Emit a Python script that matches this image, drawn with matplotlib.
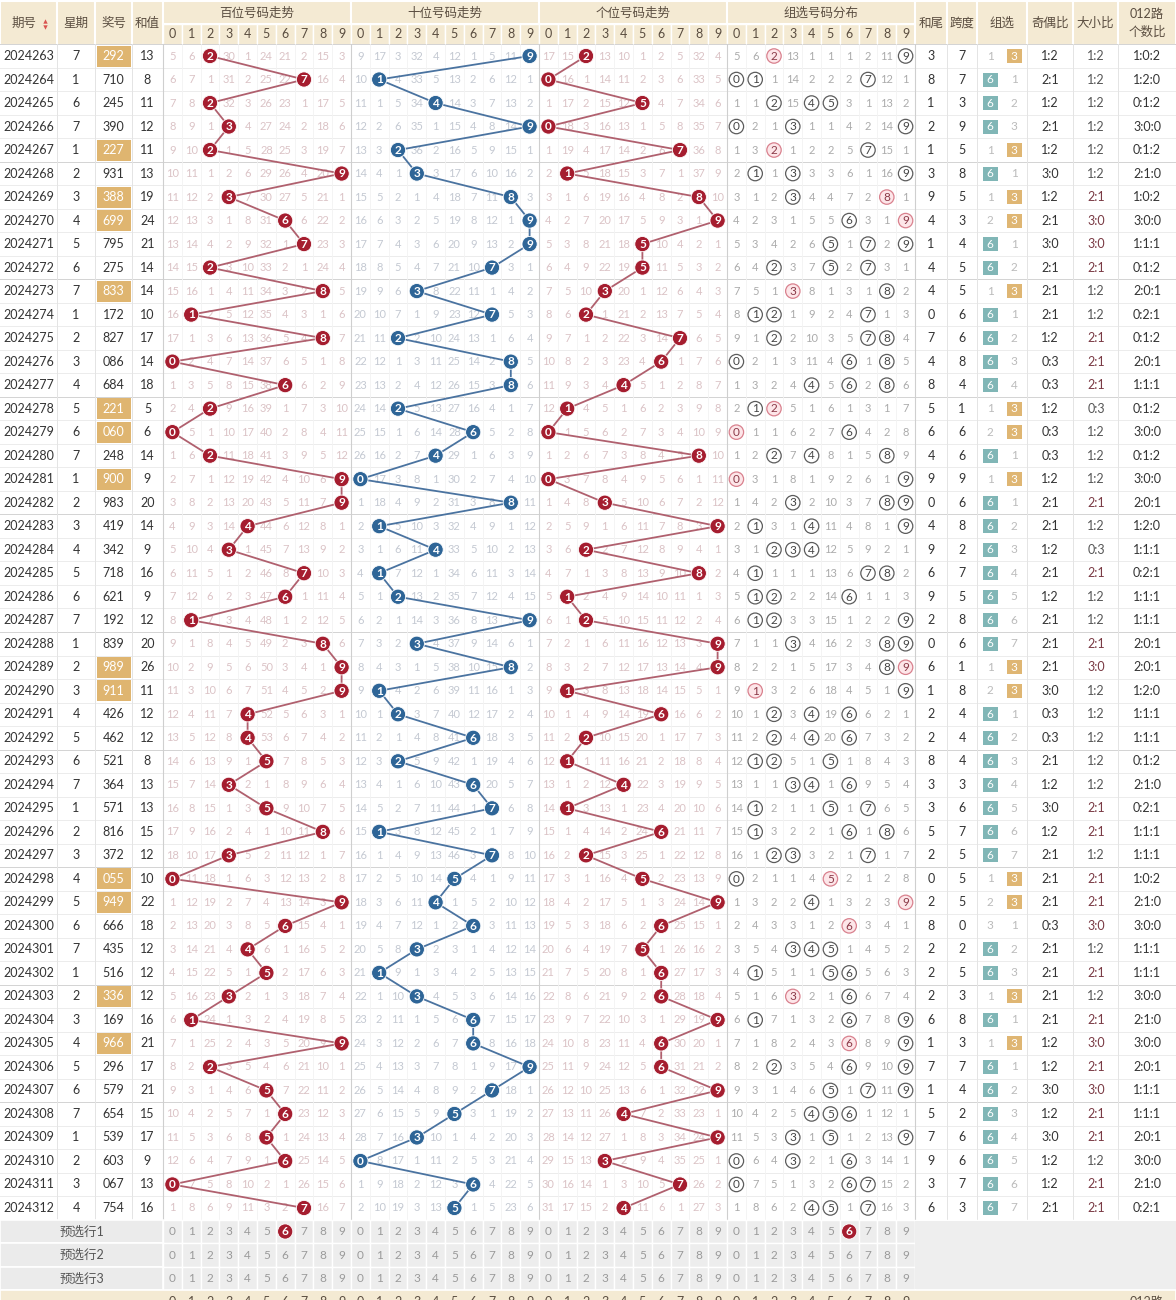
import matplotlib
matplotlib.use('Agg')
import matplotlib.pyplot as plt
from matplotlib.patches import Rectangle, Circle

plt.rcParams['font.family'] = ['Lato', 'Noto Sans CJK SC', 'DejaVu Sans']

# ---- data ----
issues = list(range(2024263, 2024313))
weekdays = [7, 1, 6, 7, 1, 2, 3, 4, 5, 6, 7, 1, 2, 3, 4, 5, 6, 7, 1, 2, 3, 4, 5, 6, 7,
            1, 2, 3, 4, 5, 6, 7, 1, 2, 3, 4, 5, 6, 7, 1, 2, 3, 4, 5, 6, 7, 1, 2, 3, 4]
draws = ["292", "710", "245", "390", "227", "931", "388", "699", "795", "275",
         "833", "172", "827", "086", "684", "221", "060", "248", "900", "983",
         "419", "342", "718", "621", "192", "839", "989", "911", "426", "462",
         "521", "364", "571", "816", "372", "055", "949", "666", "435", "516",
         "336", "169", "966", "296", "579", "654", "539", "603", "067", "754"]
sums = [13, 8, 11, 12, 11, 13, 19, 24, 21, 14, 14, 10, 17, 14, 18, 5, 6, 14, 9, 20,
        14, 9, 16, 9, 12, 20, 26, 11, 12, 12, 8, 13, 13, 15, 12, 10, 22, 18, 12, 12,
        12, 16, 21, 17, 21, 15, 17, 9, 13, 16]
tails = [3, 8, 1, 2, 1, 3, 9, 4, 1, 4, 4, 0, 7, 4, 8, 5, 6, 4, 9, 0, 4, 9, 6, 9, 2,
         0, 6, 1, 2, 2, 8, 3, 3, 5, 2, 0, 2, 8, 2, 2, 2, 6, 1, 7, 1, 5, 7, 9, 3, 6]
spans = [7, 7, 3, 9, 5, 8, 5, 3, 4, 5, 5, 6, 6, 8, 4, 1, 6, 6, 9, 6, 8, 2, 7, 5, 8,
         6, 1, 8, 4, 4, 4, 3, 6, 7, 5, 5, 5, 0, 2, 5, 3, 8, 3, 7, 4, 2, 6, 6, 7, 3]
odd_even = ["1:2", "2:1", "1:2", "2:1", "1:2", "3:0", "1:2", "2:1", "3:0", "2:1",
            "2:1", "2:1", "1:2", "0:3", "0:3", "1:2", "0:3", "0:3", "1:2", "2:1",
            "2:1", "1:2", "2:1", "1:2", "2:1", "2:1", "2:1", "3:0", "0:3", "0:3",
            "2:1", "1:2", "3:0", "1:2", "2:1", "2:1", "2:1", "0:3", "2:1", "2:1",
            "2:1", "2:1", "1:2", "1:2", "3:0", "1:2", "3:0", "1:2", "1:2", "2:1"]
big_small = ["1:2", "1:2", "1:2", "1:2", "1:2", "1:2", "2:1", "3:0", "3:0", "2:1",
             "1:2", "1:2", "2:1", "2:1", "2:1", "0:3", "1:2", "1:2", "1:2", "2:1",
             "1:2", "0:3", "2:1", "1:2", "1:2", "2:1", "3:0", "1:2", "1:2", "1:2",
             "1:2", "1:2", "2:1", "2:1", "1:2", "2:1", "2:1", "3:0", "1:2", "2:1",
             "1:2", "2:1", "3:0", "2:1", "3:0", "2:1", "2:1", "1:2", "2:1", "2:1"]
route012 = ["1:0:2", "1:2:0", "0:1:2", "3:0:0", "0:1:2", "2:1:0", "1:0:2", "3:0:0", "1:1:1", "0:1:2",
            "2:0:1", "0:2:1", "0:1:2", "2:0:1", "1:1:1", "0:1:2", "3:0:0", "0:1:2", "3:0:0", "2:0:1",
            "1:2:0", "1:1:1", "0:2:1", "1:1:1", "1:1:1", "2:0:1", "2:0:1", "1:2:0", "1:1:1", "1:1:1",
            "0:1:2", "2:1:0", "0:2:1", "1:1:1", "1:1:1", "1:0:2", "2:1:0", "3:0:0", "1:1:1", "1:1:1",
            "3:0:0", "2:1:0", "3:0:0", "2:0:1", "1:1:1", "1:1:1", "2:0:1", "3:0:0", "2:1:0", "0:2:1"]
# 3 = 组三, 6 = 组六, B = 豹子
group_type = ["3", "6", "6", "6", "3", "6", "3", "3", "6", "6",
              "3", "6", "6", "6", "6", "3", "3", "6", "3", "6",
              "6", "6", "6", "6", "6", "6", "3", "3", "6", "6",
              "6", "6", "6", "6", "6", "3", "3", "B", "6", "6",
              "3", "6", "3", "6", "6", "6", "6", "6", "6", "6"]

# omission counts shown in the first row (None where the digit hit)
hund_first = [5, 6, None, 30, 1, 24, 21, 2, 15, 3]
ten_first = [9, 17, 3, 32, 4, 12, 1, 5, 11, None]
unit_first = [17, 15, None, 13, 10, 1, 2, 5, 32, 4]
group_first = [5, 6, None, 13, 1, 1, 1, 2, 11, None]

preselect_labels = ["预选行1", "预选行2", "预选行3"]
preselect_hund = [6, None, None]
preselect_group = [6, None, None]

# ---- layout ----
W, H = 1176, 1300
ROW0, RH = 56, 23.51
CW = 18.8
SEC = [163, 351, 539, 727]
SEC_END = 915
HEAD = '#F4EAD3'
HTXT = '#5a4d40'
TXT = '#333333'
RED = '#a51d2f'
BLUE = '#2e6597'
FS = 9
FS_OM = 8

fig = plt.figure(figsize=(W / 100, H / 100), dpi=100)
ax = fig.add_axes([0, 0, 1, 1])
ax.set_xlim(0, W)
ax.set_ylim(H, 0)
ax.axis('off')


def rect(x0, y0, x1, y1, fc, ec='none', lw=0, z=1):
    ax.add_patch(Rectangle((x0, y0), x1 - x0, y1 - y0, facecolor=fc,
                           edgecolor=ec, linewidth=lw, zorder=z))


def ry(i):
    return ROW0 + RH * i


def cx(sec, d):
    return SEC[sec] + CW * (d + 0.5)


def omissions(first, hits):
    rows, cur = [], list(first)
    for r, h in enumerate(hits):
        if r > 0:
            cur = [0 if c is None else c for c in cur]
            cur = [None if d in h else cur[d] + 1 for d in range(10)]
        rows.append(list(cur))
    return rows


def ball(x, y, d, color):
    ax.add_patch(Circle((x, y), 7.6, facecolor=color, edgecolor='white', lw=0.6, zorder=5))
    ax.text(x, y + 0.3, str(d), ha='center', va='center', fontsize=8.5,
            fontweight='bold', color='white', zorder=6)


# ---- header ----
left_cols = [(0, 57, "期号"), (57, 95, "星期"), (95, 132, "奖号"), (132, 163, "和值")]
for x0, x1, lab in left_cols:
    rect(x0, 1, x1, 44.5, HEAD, 'white', 1.5)
    ax.text((x0 + x1) / 2 - (4 if lab == "期号" else 0), 23, lab, ha='center', va='center',
            fontsize=FS, color=HTXT)
ax.scatter([44.5], [20.5], marker='^', s=10, color='#d9534f', zorder=3, linewidths=0)
ax.scatter([44.5], [26.5], marker='v', s=10, color='#d9534f', zorder=3, linewidths=0)

titles = ["百位号码走势", "十位号码走势", "个位号码走势", "组选号码分布"]
for s, t in enumerate(titles):
    rect(SEC[s], 1, SEC[s] + 188, 23.5, HEAD, 'white', 1.5)
    ax.text(SEC[s] + 94, 12.5, t, ha='center', va='center', fontsize=FS, color=HTXT)
    for d in range(10):
        rect(SEC[s] + CW * d, 23.5, SEC[s] + CW * (d + 1), 44.5, HEAD, 'white', 1.0)
        ax.text(cx(s, d), 34, str(d), ha='center', va='center', fontsize=FS, color=HTXT)

right_cols = [(915, 947, "和尾"), (947, 977, "跨度"), (977, 1027, "组选"),
              (1027, 1073, "奇偶比"), (1073, 1118, "大小比"), (1118, 1176, "012路\n个数比")]
for x0, x1, lab in right_cols:
    rect(x0, 1, x1, 44.5, HEAD, 'white', 1.5)
    ax.text((x0 + x1) / 2, 23, lab, ha='center', va='center', fontsize=FS,
            color=HTXT, linespacing=1.5)

# ---- body grid ----
n = len(draws)
body_top = ry(0) - RH / 2
body_bot = ry(n - 1) + RH / 2
for i in range(n + 1):
    y = ry(i) - RH / 2
    col = '#d3d3d3' if i % 5 == 0 else '#ececec'
    ax.plot([0, W], [y, y], color=col, lw=0.7, zorder=1)
for s in range(4):
    for d in range(1, 10):
        x = SEC[s] + CW * d
        ax.plot([x, x], [body_top, body_bot], color='#f3f3f3', lw=0.6, zorder=1)
for x in [57, 95, 132, 947, 977, 1027, 1073, 1118]:
    ax.plot([x, x], [body_top, body_bot], color='#e4e4e4', lw=0.7, zorder=1)
for x in SEC + [SEC_END]:
    ax.plot([x, x], [body_top, body_bot], color='#cfcfcf', lw=0.8, zorder=1)

# ---- left columns ----
for i in range(n):
    y = ry(i)
    ax.text(28.5, y, str(issues[i]), ha='center', va='center', fontsize=FS, color=TXT)
    ax.text(76, y, str(weekdays[i]), ha='center', va='center', fontsize=FS, color=TXT)
    hl = group_type[i] == "3"
    if hl:
        rect(97, y - 10.5, 131, y + 10.5, '#dfb570', z=2)
    ax.text(113.5, y, draws[i], ha='center', va='center', fontsize=FS,
            color='white' if hl else TXT, zorder=3)
    ax.text(147.5, y, str(sums[i]), ha='center', va='center', fontsize=FS, color=TXT)

# ---- position trend sections ----
digits = [[int(c) for c in d] for d in draws]
pos_style = [(hund_first, RED, '#b0606e', '#dbc3c6'),
             (ten_first, BLUE, '#4a73a0', '#c4c9d2'),
             (unit_first, RED, '#b0606e', '#dbc3c6')]
for p, (first, ball_c, line_c, om_c) in enumerate(pos_style):
    hits = [{dg[p]} for dg in digits]
    om = omissions(first, hits)
    xs = [cx(p, dg[p]) for dg in digits]
    ys = [ry(i) for i in range(n)]
    ax.plot(xs, ys, color=line_c, lw=1.3, zorder=4, solid_capstyle='round')
    for i in range(n):
        for d in range(10):
            if om[i][d] is None:
                ball(cx(p, d), ry(i), d, ball_c)
            else:
                ax.text(cx(p, d), ry(i), str(om[i][d]), ha='center', va='center',
                        fontsize=FS_OM, color=om_c, zorder=3)

# ---- group distribution ----
ghits = [set(dg) for dg in digits]
gom = omissions(group_first, ghits)
for i in range(n):
    for d in range(10):
        x, y = cx(3, d), ry(i)
        if gom[i][d] is None:
            rep = digits[i].count(d) > 1
            ax.add_patch(Circle((x, y), 7.2, facecolor='#fde6e9' if rep else 'white',
                                edgecolor='#d9818e' if rep else '#5c5c5c', lw=0.9, zorder=4))
            ax.text(x, y + 0.3, str(d), ha='center', va='center', fontsize=8.5,
                    color='#8b3a48' if rep else '#444444', zorder=5)
        else:
            ax.text(x, y, str(gom[i][d]), ha='center', va='center', fontsize=FS_OM,
                    color='#ababab', zorder=3)

# ---- right columns ----
g6_miss, g3_miss = 0, 0
for i in range(n):
    y = ry(i)
    ax.text(931, y, str(tails[i]), ha='center', va='center', fontsize=FS, color=TXT)
    ax.text(962, y, str(spans[i]), ha='center', va='center', fontsize=FS, color=TXT)
    gt = group_type[i]
    if gt == "6":
        g6_miss, g3_miss = 0, g3_miss + 1
        rect(982.5, y - 7, 997.5, y + 7, '#80b6b6', z=2)
        ax.text(990, y, "6", ha='center', va='center', fontsize=8.5, color='white', zorder=3)
        ax.text(1014, y, str(g3_miss), ha='center', va='center', fontsize=8.5, color='#bbbbbb')
    elif gt == "3":
        g6_miss, g3_miss = g6_miss + 1, 0
        ax.text(990, y, str(g6_miss), ha='center', va='center', fontsize=8.5, color='#bbbbbb')
        rect(1006.5, y - 7, 1021.5, y + 7, '#dfb673', z=2)
        ax.text(1014, y, "3", ha='center', va='center', fontsize=8.5, color='white', zorder=3)
    else:
        g6_miss, g3_miss = g6_miss + 1, g3_miss + 1
        ax.text(990, y, str(g6_miss), ha='center', va='center', fontsize=8.5, color='#bbbbbb')
        ax.text(1014, y, str(g3_miss), ha='center', va='center', fontsize=8.5, color='#bbbbbb')
    ax.text(1050, y, odd_even[i], ha='center', va='center', fontsize=FS, color=TXT)
    big = int(big_small[i][0])
    ax.text(1096, y, big_small[i], ha='center', va='center', fontsize=FS,
            color='#7a3a44' if big >= 2 else '#555555')
    ax.text(1147, y, route012[i], ha='center', va='center', fontsize=FS, color=TXT)

# ---- preselect rows ----
for k, lab in enumerate(preselect_labels):
    y = ry(n + k)
    rect(0, y - RH / 2, 163, y + RH / 2, '#ebebeb', 'white', 1.2)
    ax.text(82, y, lab, ha='center', va='center', fontsize=FS, color='#555555')
    for s in range(4):
        for d in range(10):
            rect(SEC[s] + CW * d, y - RH / 2, SEC[s] + CW * (d + 1), y + RH / 2,
                 '#ededed', 'white', 1.0)
            hit = (s == 0 and preselect_hund[k] == d) or (s == 3 and preselect_group[k] == d)
            if hit:
                ball(cx(s, d), y, d, RED)
            else:
                ax.text(cx(s, d), y, str(d), ha='center', va='center', fontsize=8.5,
                        color='#9a9a9a', zorder=3)
    rect(915, y - RH / 2, W, y + RH / 2, '#ededed', 'white', 1.0)

# overlay left by the screenshot tool
rect(915, ry(n) - RH / 2 + 1, W, ry(n + 2) + RH / 2 - 1, '#eeeeee', z=7)

# cut-off footer row
yb = ry(n + 3)
rect(0, yb - RH / 2, W, H + 5, HEAD, 'white', 1.2)
for s in range(4):
    for d in range(10):
        ax.text(cx(s, d), yb, str(d), ha='center', va='center', fontsize=FS,
                color=HTXT, clip_on=True)
ax.text(1147, yb, "012路", ha='center', va='center', fontsize=FS, color=HTXT, clip_on=True)

fig.savefig('out.png', dpi=100, facecolor='white')
